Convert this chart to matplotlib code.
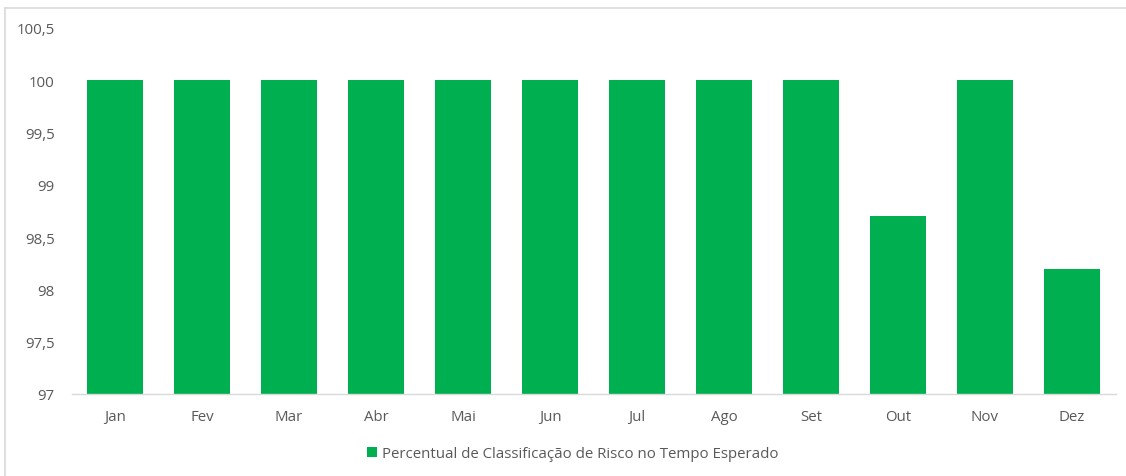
import matplotlib
matplotlib.use("Agg")
import matplotlib.pyplot as plt
from matplotlib.lines import Line2D
from matplotlib.patches import Patch
from matplotlib.ticker import FuncFormatter

months = ["Jan", "Fev", "Mar", "Abr", "Mai", "Jun", "Jul", "Ago", "Set", "Out", "Nov", "Dez"]
values = [100, 100, 100, 100, 100, 100, 100, 100, 100, 98.7, 100, 98.2]
yticks = [97, 97.5, 98, 98.5, 99, 99.5, 100, 100.5]
series_name = "Percentual de Classificação de Risco no Tempo Esperado"

GREEN = "#00B050"
TXT = "#595959"
W, H = 1126, 477
FS = 10.8

plt.rcParams['font.family'] = ['Open Sans', 'DejaVu Sans']
fig = plt.figure(figsize=(W / 100, H / 100), dpi=100)
ax = fig.add_axes([71.5 / W, 1 - 395 / H, (1115.5 - 71.5) / W, (395 - 29) / H])

x = list(range(len(months)))
ax.bar(x, [v - 97 for v in values], bottom=97, width=0.645, color=GREEN, zorder=2)
ax.set_xlim(-0.5, len(months) - 0.5)
ax.set_ylim(97, 100.5)
ax.set_yticks(yticks)
ax.yaxis.set_major_formatter(FuncFormatter(lambda v, p: ("%g" % v).replace(".", ",")))
ax.set_xticks(x)
ax.set_xticklabels(months)
ax.tick_params(axis='both', length=0, labelsize=FS, labelcolor=TXT)
ax.tick_params(axis='y', pad=12)
ax.tick_params(axis='x', pad=11)
for s in ["top", "right", "left"]:
    ax.spines[s].set_visible(False)
ax.spines["bottom"].set_color("#D9D9D9")
ax.spines["bottom"].set_linewidth(1)

# outer chart frame (top and left edges visible)
fig.add_artist(Line2D([4.5 / W, 1], [1 - 8.5 / H, 1 - 8.5 / H], color="#D9D9D9", lw=1.2, transform=fig.transFigure))
fig.add_artist(Line2D([4.5 / W, 4.5 / W], [0, 1 - 8.5 / H], color="#D9D9D9", lw=1.2, transform=fig.transFigure))

handle = Patch(facecolor=GREEN, edgecolor="none")
fig.legend([handle], [series_name], loc="center", bbox_to_anchor=(573 / W, 1 - 455 / H),
           frameon=False, fontsize=FS, labelcolor=TXT, handlelength=0.65, handleheight=0.65,
           handletextpad=0.35)

fig.savefig("out.png", dpi=100, facecolor="white")
